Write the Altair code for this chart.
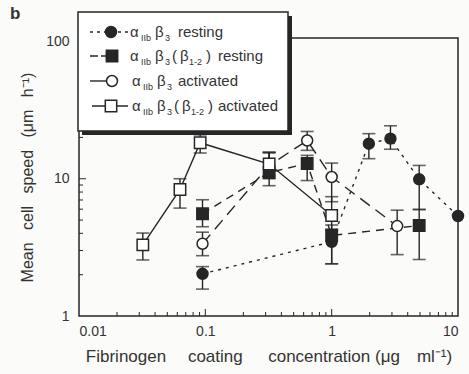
import altair as alt
import pandas as pd

# ---------------- data ----------------
# alpha_IIb beta_3 resting (filled circles, dotted line)
fc_x = [0.095, 1.0, 1.97, 2.92, 4.93, 10.0]
fc_y = [2.03, 3.47, 18.0, 19.6, 9.9, 5.35]
fc_lo = [1.57, 2.4, 14.0, 16.4, 5.97, None]
fc_hi = [2.29, 4.2, 21.3, 24.3, 12.5, None]

# alpha_IIb beta_3(beta_1-2) resting (filled squares, dashed line)
fs_x = [0.095, 0.32, 0.64, 1.0, 4.93]
fs_y = [5.56, 11.1, 12.9, 3.86, 4.56]
fs_lo = [4.47, 8.9, 9.7, 2.4, 2.58]
fs_hi = [7.03, 15.6, 14.8, 4.6, 5.97]

# alpha_IIb beta_3 activated (open circles, long-dashed line)
oc_x = [0.095, 0.32, 0.64, 1.0, 3.3]
oc_y = [3.36, 12.5, 19.0, 10.3, 4.52]
oc_lo = [2.75, 10.0, 16.1, 6.8, 2.8]
oc_hi = [4.08, 15.6, 22.1, 13.0, 5.9]

# alpha_IIb beta_3(beta_1-2) activated (open squares, solid line)
os_x = [0.032, 0.063, 0.091, 0.32, 1.0]
os_y = [3.30, 8.35, 18.3, 12.8, 5.4]
os_lo = [2.56, 6.11, 15.4, 10.5, 4.3]
os_hi = [4.02, 10.0, 20.9, 15.4, 7.4]

x_tick_labels = [0.01, 0.1, 1, 10]
y_tick_labels = [1, 10, 100]
x_minor_ticks = [0.02, 0.03, 0.04, 0.05, 0.06, 0.07, 0.08, 0.09,
                 0.2, 0.3, 0.4, 0.5, 0.6, 0.7, 0.8, 0.9,
                 2, 3, 4, 5, 6, 7, 8, 9]
x_major_ticks = [0.1, 1]
y_minor_ticks = [2, 3, 4, 5, 6, 7, 8, 9, 20, 30, 40, 50, 60, 70, 80, 90]
y_major_ticks = [10]

EM, EN = "\u2003", "\u2002"
x_title = ("Fibrinogen" + EM + " coating" + EM + EN + "concentration" + " (\u03bcg"
           + EM + "ml\u207b\u00b9)")
G = "\u2002 "
y_title = "Mean" + G + "cell" + G + "speed" + G + "(\u03bcm" + G + "h\u207b\u00b9)"

# ---------------- styling ----------------
INK = "#262626"
TEXT = "#333333"
FONT = "Liberation Sans"
W, H = 379, 278

xs = alt.Scale(type="log", domain=[0.01, 10], nice=False)
ys = alt.Scale(type="log", domain=[1, 106], nice=False)
xaxis = alt.Axis(values=x_tick_labels, format="~g", ticks=False, tickSize=0,
                 domain=False, grid=False, labelPadding=8, labelFontSize=14,
                 titlePadding=10, titleFontSize=17, titleFontWeight="normal")
yaxis = alt.Axis(values=y_tick_labels, format="~g", ticks=False, tickSize=0,
                 domain=False, grid=False, labelPadding=10, labelFontSize=14,
                 titlePadding=10, titleFontSize=16, titleFontWeight="normal")


def X(field):
    return alt.X(field, type="quantitative", scale=xs, axis=xaxis, title=x_title)


def Y(field):
    return alt.Y(field, type="quantitative", scale=ys, axis=yaxis, title=y_title)


def frame(xv, yv, lo, hi):
    return pd.DataFrame({"x": xv, "y": yv, "lo": lo, "hi": hi})


series = [
    ("fc", frame(fc_x, fc_y, fc_lo, fc_hi), [3, 5]),
    ("fs", frame(fs_x, fs_y, fs_lo, fs_hi), [8, 6]),
    ("oc", frame(oc_x, oc_y, oc_lo, oc_hi), [12, 7]),
    ("os", frame(os_x, os_y, os_lo, os_hi), None),
]

layers = []

# inward axis ticks
xmin_df = pd.DataFrame({"x": x_minor_ticks})
xmaj_df = pd.DataFrame({"x": x_major_ticks})
ymin_df = pd.DataFrame({"y": y_minor_ticks})
ymaj_df = pd.DataFrame({"y": y_major_ticks})
layers.append(alt.Chart(xmin_df).mark_rule(color=INK, strokeWidth=1).encode(
    x=X("x"), y=alt.value(H), y2=alt.value(H - 4)))
layers.append(alt.Chart(xmaj_df).mark_rule(color=INK, strokeWidth=1).encode(
    x=X("x"), y=alt.value(H), y2=alt.value(H - 7)))
layers.append(alt.Chart(ymin_df).mark_rule(color=INK, strokeWidth=1).encode(
    y=Y("y"), x=alt.value(0), x2=alt.value(4)))
layers.append(alt.Chart(ymaj_df).mark_rule(color=INK, strokeWidth=1).encode(
    y=Y("y"), x=alt.value(0), x2=alt.value(7)))

# connecting lines
for name, df, dash in series:
    kw = dict(color=INK, strokeWidth=1.4)
    if dash:
        kw["strokeDash"] = dash
    layers.append(alt.Chart(df).mark_line(**kw).encode(x=X("x"), y=Y("y")))

# error bars
for name, df, dash in series:
    d = df.dropna()
    base = alt.Chart(d)
    layers.append(base.mark_rule(color=INK, strokeWidth=1.4).encode(
        x=X("x"), y=Y("lo"), y2=alt.Y2("hi")))
    layers.append(base.mark_tick(color=INK, orient="horizontal", size=13, thickness=1.6).encode(
        x=X("x"), y=Y("lo")))
    layers.append(base.mark_tick(color=INK, orient="horizontal", size=13, thickness=1.6).encode(
        x=X("x"), y=Y("hi")))

# markers
marker_style = {
    "fc": dict(shape="circle", filled=True, fill=INK, stroke=INK, size=120),
    "fs": dict(shape="square", filled=True, fill=INK, stroke=INK, size=130),
    "oc": dict(shape="circle", filled=True, fill="white", stroke=INK, size=120),
    "os": dict(shape="square", filled=True, fill="white", stroke=INK, size=130),
}
for name, df, dash in series:
    layers.append(alt.Chart(df).mark_point(opacity=1, strokeWidth=1.5, **marker_style[name]).encode(
        x=X("x"), y=Y("y")))

# ---------------- legend (drawn box) ----------------
one = pd.DataFrame({"k": [0]})
LX0, LX1, LY0, LY1 = -1, 209, -26, 93
layers.append(alt.Chart(one).mark_rect(fill=INK).encode(
    x=alt.value(LX0 + 4), x2=alt.value(LX1 + 4), y=alt.value(LY0 + 4), y2=alt.value(LY1 + 4)))
layers.append(alt.Chart(one).mark_rect(fill="white", stroke=INK, strokeWidth=1.5).encode(
    x=alt.value(LX0), x2=alt.value(LX1), y=alt.value(LY0), y2=alt.value(LY1)))

rows_y = [-6, 18, 43, 68]
legend_lines = [
    (11, 49, rows_y[0], [3, 4]),
    (11, 30, rows_y[1], [8, 3]),
    (11, 30, rows_y[2], None),
    (13, 49, rows_y[3], None),
]
for x0, x1, yy, dash in legend_lines:
    kw = dict(color=INK, strokeWidth=1.4)
    if dash:
        kw["strokeDash"] = dash
    layers.append(alt.Chart(one).mark_rule(**kw).encode(
        x=alt.value(x0), x2=alt.value(x1), y=alt.value(yy)))

legend_symbols = [("fc", 32, rows_y[0]), ("fs", 33, rows_y[1]), ("oc", 33, rows_y[2]), ("os", 32, rows_y[3])]
for name, xx, yy in legend_symbols:
    layers.append(alt.Chart(one).mark_point(opacity=1, strokeWidth=1.5, **marker_style[name]).encode(
        x=alt.value(xx), y=alt.value(yy)))


def txt(s, xx, yy, size=15, weight="normal"):
    return alt.Chart(one).mark_text(text=s, align="left", baseline="middle", font=FONT,
                                    fontSize=size, fontWeight=weight, color=TEXT).encode(
        x=alt.value(xx), y=alt.value(yy))


for i, (tail, has_b12) in enumerate([("resting", False), ("resting", True),
                                     ("activated", False), ("activated", True)]):
    yy = rows_y[i]
    dx = 0 if i < 2 else 2
    layers.append(txt("\u03b1", 51 + dx, yy))
    layers.append(txt("IIb", 62 + dx, yy + 6, 9))
    layers.append(txt("\u03b2", 76 + dx, yy))
    layers.append(txt("3", 86 + dx, yy + 6, 9))
    if has_b12:
        layers.append(txt("(", 93 + dx, yy))
        layers.append(txt("\u03b2", 101 + dx, yy))
        layers.append(txt("1-2", 110 + dx, yy + 6, 9))
        layers.append(txt(")", 127 + dx, yy))
        layers.append(txt(tail, 139, yy))
    else:
        layers.append(txt(tail, 99, yy))

# panel label
layers.append(txt("b", -69, -24, 17, "bold"))

chart = alt.layer(*layers).properties(
    width=W, height=H,
    autosize=alt.AutoSizeParams(type="none"),
    padding={"left": 79, "top": 38, "right": 11, "bottom": 58},
    background="#fbfbf9",
).configure_view(
    stroke=INK, strokeWidth=1.5, fill=None
).configure_axis(
    labelFont=FONT, titleFont=FONT, labelColor=TEXT, titleColor=TEXT
)

chart.save("out.html", embed_options={"renderer": "svg", "actions": False})
